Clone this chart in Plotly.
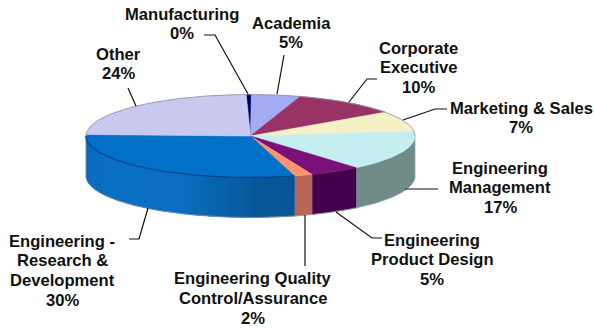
import numpy as np
import plotly.graph_objects as go

# ---- data (clockwise from the top of the pie) ----
categories = ["Manufacturing", "Academia", "Corporate Executive", "Marketing & Sales",
              "Engineering Management", "Engineering Product Design",
              "Engineering Quality Control/Assurance", "Engineering - Research & Development", "Other"]
slice_values = [0.5, 4.8, 10.4, 7.6, 16.0, 5.0, 1.8, 29.9, 24.0]
label_lines = [["Manufacturing", "0%"], ["Academia", "5%"], ["Corporate", "Executive", "10%"],
               ["Marketing & Sales", "7%"], ["Engineering", "Management", "17%"],
               ["Engineering", "Product Design", "5%"],
               ["Engineering Quality", "Control/Assurance", "2%"],
               ["Engineering -", "Research &", "Development", "30%"], ["Other", "24%"]]
top_colors = ["#000066", "#A3ABF2", "#993366", "#F6F0C6", "#C4EEF0", "#7B1078", "#FF9472", "#0070C8", "#C9C9EF"]
side_colors = ["#000040", "#6A70A0", "#662244", "#A8A488", "#6F8C88", "#42004A", "#BA6455", "#0A70C4", "#8080A0"]

# ---- geometry ----
CX, CY, RX, RY, DEPTH = 250.5, 136.0, 164.5, 41.5, 40.0
START = -1.5


def px(t):
    return CX + RX * np.sin(np.radians(t))


def py(t):
    return CY - RY * np.cos(np.radians(t))


def shade(hex_color, f):
    r, g, b = (int(hex_color[i:i + 2], 16) for i in (1, 3, 5))
    return f"rgb({min(255, int(r * f))},{min(255, int(g * f))},{min(255, int(b * f))})"


fig = go.Figure()
total = sum(slice_values)
edges = START + np.cumsum([0] + slice_values) * 360 / total

# side wall: a solid band per slice, then overlapping strips for the light on the blue slice
for i in range(len(slice_values)):
    a, b = max(edges[i], 90), min(edges[i + 1], 270)
    if b <= a:
        continue
    seg = np.linspace(a, b, max(3, int(b - a) + 2))
    fig.add_trace(go.Scatter(
        x=list(px(seg)) + list(px(seg[::-1])),
        y=list(py(seg)) + list(py(seg[::-1]) + DEPTH),
        mode="lines", fill="toself", fillcolor=side_colors[i], line=dict(color=side_colors[i], width=0.5),
        hoverinfo="skip", showlegend=False))
    if i == 7:
        ts = np.arange(a, b, 3.0)
        for t0 in ts:
            t1 = min(t0 + 5.0, b)
            f = float(np.interp(t0 + 1.5, [160, 178, 205, 235, 270], [0.76, 0.78, 0.98, 1.0, 0.94]))
            c = shade(side_colors[i], f)
            s2 = np.linspace(t0, t1, 4)
            fig.add_trace(go.Scatter(
                x=list(px(s2)) + list(px(s2[::-1])),
                y=list(py(s2)) + list(py(s2[::-1]) + DEPTH),
                mode="none", fill="toself", fillcolor=c,
                hoverinfo="skip", showlegend=False))

# lower rim
rim = np.linspace(90, 270, 120)
fig.add_trace(go.Scatter(x=px(rim), y=py(rim) + DEPTH, mode="lines",
                         line=dict(color="#8A98A8", width=0.8), hoverinfo="skip", showlegend=False))
# wall edges at the outer ends of the pie
for t in (90, 270):
    fig.add_trace(go.Scatter(x=[px(t), px(t)], y=[py(t), py(t) + DEPTH], mode="lines",
                             line=dict(color="#9AA0A8", width=0.7), hoverinfo="skip", showlegend=False))

# top face
for i in range(len(slice_values)):
    ts = np.linspace(edges[i], edges[i + 1], max(3, int(edges[i + 1] - edges[i]) + 2))
    fig.add_trace(go.Scatter(
        x=[CX] + list(px(ts)) + [CX], y=[CY] + list(py(ts)) + [CY],
        mode="lines", fill="toself", fillcolor=top_colors[i],
        line=dict(color=top_colors[i], width=0.6),
        name=categories[i], hoverinfo="name", showlegend=False))

# top rim: soft grey at the back, navy along the front of the blue slice
back = np.linspace(-90, 90, 120)
fig.add_trace(go.Scatter(x=px(back), y=py(back), mode="lines",
                         line=dict(color="#8E8EA4", width=0.8), hoverinfo="skip", showlegend=False))
front = np.linspace(edges[7], 270, 80)
fig.add_trace(go.Scatter(x=px(front), y=py(front), mode="lines",
                         line=dict(color="#00408C", width=1.2), hoverinfo="skip", showlegend=False))

# leader lines
leaders = [
    ([204, 215, 248], [35, 35, 94]),
    ([284, 277], [55, 94]),
    ([377, 367, 349], [79, 79, 102]),
    ([447, 435, 403], [109, 109, 120]),
    ([438, 405], [189, 189]),
    ([382, 372, 336], [238, 238, 212]),
    ([305, 305], [215, 266]),
    ([129, 139, 148], [239, 239, 208]),
    ([128, 136], [88, 106]),
]
for xs, ys in leaders:
    fig.add_trace(go.Scatter(x=xs, y=ys, mode="lines", line=dict(color="#111111", width=1.2),
                             hoverinfo="skip", showlegend=False))

# labels: centre x, first-line y
label_pos = [(182, 14), (291, 23), (418, 48), (521, 108), (500, 168), (432, 240),
             (253, 278.5), (62, 241), (118, 54)]
PITCH = 19.8
for lines, (lx, ly) in zip(label_lines, label_pos):
    for k, text in enumerate(lines):
        fig.add_annotation(x=lx, y=ly + k * PITCH, text=f"<b>{text}</b>", showarrow=False,
                           xref="x", yref="y", xanchor="center", yanchor="middle",
                           font=dict(family="Liberation Sans", size=16.6, color="#111111"))

fig.update_layout(width=594, height=329, margin=dict(l=0, r=0, t=0, b=0),
                  paper_bgcolor="white", plot_bgcolor="white", showlegend=False,
                  xaxis=dict(range=[0, 594], visible=False, fixedrange=True),
                  yaxis=dict(range=[329, 0], visible=False, fixedrange=True))
fig.write_html("out.html", config={"displayModeBar": False},
               post_script="document.body.style.margin='0';document.body.style.overflow='hidden';")
